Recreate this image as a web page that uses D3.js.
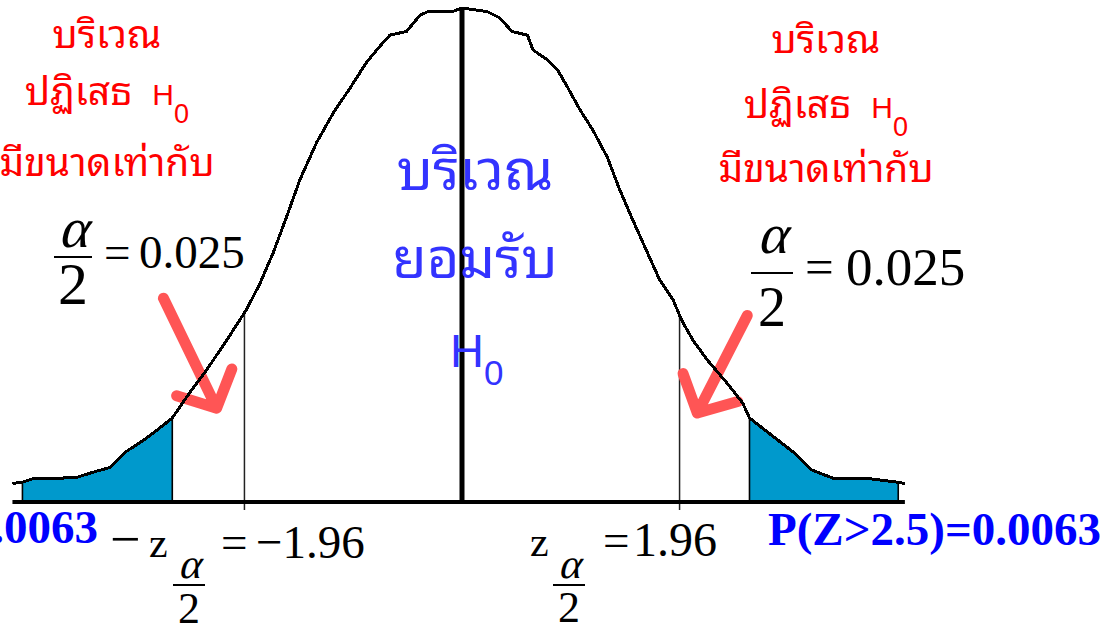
<!DOCTYPE html>
<html>
<head>
<meta charset="utf-8">
<script src="https://cdn.jsdelivr.net/npm/d3@7"></script>
<style>
  body { margin: 0; background: #fff; }
  svg { display: block; }
</style>
</head>
<body>
<div id="chart"></div>
<script>
// curve (z position, curve height)
const zValues = [-4.05, -3.96, -3.86, -3.68, -3.47, -3.29, -3.17, -3.04, -2.87, -2.75, -2.61, -2.45, -2.30, -2.12,
  -1.94, -1.82, -1.70, -1.58, -1.46, -1.31, -1.16, -1.01, -0.86, -0.74, -0.65, -0.50, -0.38, -0.31, -0.09, 0,
  0.23, 0.34, 0.45, 0.59, 0.64, 0.77, 0.86, 0.95, 1.06, 1.18, 1.31, 1.42, 1.54, 1.67, 1.78, 1.90, 1.98, 2.08,
  2.21, 2.39, 2.53, 2.59, 2.99, 3.15, 3.35, 3.66, 3.93, 3.99];
const density = [0.015, 0.016, 0.019, 0.019, 0.020, 0.025, 0.028, 0.040, 0.050, 0.058, 0.068, 0.089, 0.107, 0.131,
  0.156, 0.177, 0.202, 0.231, 0.261, 0.291, 0.315, 0.335, 0.356, 0.369, 0.378, 0.381, 0.394, 0.397, 0.397, 0.400,
  0.397, 0.392, 0.381, 0.378, 0.366, 0.358, 0.350, 0.336, 0.318, 0.301, 0.279, 0.253, 0.228, 0.202, 0.180, 0.164,
  0.147, 0.131, 0.115, 0.096, 0.080, 0.068, 0.040, 0.026, 0.019, 0.019, 0.016, 0.015];

const criticalZ = [-1.96, 1.96];
const tailRanges = [[-3.96, -2.61], [2.59, 3.93]];
const tailLabels = ["P(Z<-2.5)=0.0063", "P(Z>2.5)=0.0063"];
const rejectLines = ["บริเวณ", "ปฏิเสธ", "มีขนาดเท่ากับ"];
const acceptLines = ["บริเวณ", "ยอมรับ"];
const alphaHalf = "0.025";
const critLabels = ["−1.96", "1.96"];

// arrows: [start z, start h, tip z, tip h]
const arrows = [[-2.69, 0.165, -2.21, 0.076], [2.57, 0.151, 2.12, 0.072]];

const width = 1113, height = 629;
const pts = zValues.map((z, i) => ({ z: z, h: density[i] }));

const svg = d3.select("#chart").append("svg")
  .attr("width", width)
  .attr("height", height);

svg.append("rect").attr("width", width).attr("height", height).attr("fill", "#fff");

const x = d3.scaleLinear().domain([-4, 4]).range([18, 906]);
const y = d3.scaleLinear().domain([0, 0.4]).range([502, 8]);

const line = d3.line().x(d => x(d.z)).y(d => y(d.h));
const area = d3.area().x(d => x(d.z)).y0(y(0)).y1(d => y(d.h));

function hAt(z) {
  const i = d3.bisector(d => d.z).left(pts, z);
  const a = pts[i - 1], b = pts[i];
  return a.h + (b.h - a.h) * (z - a.z) / (b.z - a.z);
}

// shaded tails
tailRanges.forEach(r => {
  const seg = pts.filter(d => d.z >= r[0] - 1e-6 && d.z <= r[1] + 1e-6);
  svg.append("path")
    .datum(seg)
    .attr("d", area)
    .attr("fill", "#0099cc")
    .attr("stroke", "#000")
    .attr("stroke-width", 1.6)
    .attr("stroke-linejoin", "round");
});

// critical value lines
svg.selectAll(".crit")
  .data(criticalZ)
  .enter()
  .append("line")
  .attr("x1", d => x(d)).attr("x2", d => x(d))
  .attr("y1", d => y(hAt(d)))
  .attr("y2", y(0) + 8)
  .attr("stroke", "#222")
  .attr("stroke-width", 1.5);

// baseline
svg.append("line")
  .attr("x1", x(zValues[0])).attr("x2", x(zValues[zValues.length - 1]))
  .attr("y1", y(0)).attr("y2", y(0))
  .attr("stroke", "#000")
  .attr("stroke-width", 4);

// mean line
svg.append("line")
  .attr("x1", x(0)).attr("x2", x(0))
  .attr("y1", y(0.4)).attr("y2", y(0))
  .attr("stroke", "#000")
  .attr("stroke-width", 5);

// red arrows
arrows.forEach(a => {
  const sx = x(a[0]), sy = y(a[1]), tx = x(a[2]), ty = y(a[3]);
  const back = Math.atan2(sy - ty, sx - tx);
  const len = 42, spread = 47 * Math.PI / 180;
  const p1 = [tx + len * Math.cos(back + spread), ty + len * Math.sin(back + spread)];
  const p2 = [tx + len * Math.cos(back - spread), ty + len * Math.sin(back - spread)];
  svg.append("path")
    .attr("d", `M${sx},${sy}L${tx},${ty}M${p1[0]},${p1[1]}L${tx},${ty}L${p2[0]},${p2[1]}`)
    .attr("fill", "none")
    .attr("stroke", "#ff5555")
    .attr("stroke-width", 11)
    .attr("stroke-linecap", "round")
    .attr("stroke-linejoin", "round");
});

// the curve
svg.append("path")
  .datum(pts)
  .attr("d", line)
  .attr("fill", "none")
  .attr("stroke", "#000")
  .attr("stroke-width", 3)
  .attr("shape-rendering", "crispEdges");

const thai = "'Noto Sans Thai Looped', 'Loma', 'Garuda', 'Tahoma', 'Tlwg Typo', 'Noto Sans Thai', 'Noto Sans', sans-serif";
const serif = "'Liberation Serif', 'Times New Roman', serif";
const sans = "'Liberation Sans', Arial, sans-serif";

// red rejection-region text
function rejectBlock(cx, baselines) {
  rejectLines.forEach((t, i) => {
    const tx = svg.append("text")
      .attr("x", cx).attr("y", baselines[i])
      .attr("text-anchor", "middle")
      .attr("fill", "#ff0000")
      .attr("font-family", thai)
      .attr("font-size", 39)
      .text(t);
    if (i === 1) {
      tx.append("tspan").attr("font-family", sans).attr("font-size", 30).attr("dx", 20).text("H");
      tx.append("tspan").attr("font-family", sans).attr("font-size", 27).attr("dy", 18).text("0");
    }
  });
}
rejectBlock(107, [48, 105, 176]);
rejectBlock(826, [53, 118, 182]);

// blue acceptance-region text
acceptLines.forEach((t, i) => {
  svg.append("text")
    .attr("x", 475).attr("y", [190, 278][i])
    .attr("text-anchor", "middle")
    .attr("fill", "#3333ff")
    .attr("font-family", thai)
    .attr("font-size", 56)
    .text(t);
});
const h0 = svg.append("text")
  .attr("x", 450).attr("y", 367)
  .attr("fill", "#3333ff")
  .attr("font-family", sans);
h0.append("tspan").attr("font-size", 47).text("H");
h0.append("tspan").attr("font-size", 35).attr("dy", 18).text("0");

// alpha/2 = 0.025 labels
function alphaFrac(cx, top, aSize, twoSize, barW, barY, twoY) {
  svg.append("g")
    .attr("transform", `translate(${cx},${top}) skewX(-14)`)
    .append("text")
    .attr("text-anchor", "middle").attr("font-family", serif)
    .attr("font-size", aSize).text("α");
  svg.append("line").attr("x1", cx - barW / 2).attr("x2", cx + barW / 2)
    .attr("y1", barY).attr("y2", barY).attr("stroke", "#000").attr("stroke-width", 2);
  svg.append("text").attr("x", cx).attr("y", twoY)
    .attr("text-anchor", "middle").attr("font-family", serif)
    .attr("font-size", twoSize).text("2");
}
function plainText(px, py, size, t) {
  svg.append("text").attr("x", px).attr("y", py)
    .attr("font-family", serif).attr("font-size", size).text(t);
}

alphaFrac(73, 247, 56, 60, 38, 257, 304);
plainText(104, 268, 47, "=");
plainText(139, 268, 47, alphaHalf);

alphaFrac(772, 253, 56, 56, 42, 273, 326);
plainText(805, 284, 51, "=");
plainText(846, 285, 53, alphaHalf);

// critical value labels
plainText(110, 557, 54, "−");
plainText(149, 557, 42, "z");
alphaFrac(189, 578, 42, 44, 32, 585, 623);
plainText(221, 558, 47, "=");
plainText(256, 558, 47, critLabels[0]);

plainText(530, 556, 42, "z");
alphaFrac(569, 578, 42, 44, 32, 585, 622);
plainText(603, 556, 47, "=");
plainText(633, 556, 48, critLabels[1]);

// tail probabilities
svg.append("text").attr("x", 98).attr("y", 543)
  .attr("text-anchor", "end").attr("font-family", serif).attr("font-weight", "bold")
  .attr("font-size", 47).attr("fill", "#0000ff").text(tailLabels[0]);
svg.append("text").attr("x", 768).attr("y", 545)
  .attr("font-family", serif).attr("font-weight", "bold")
  .attr("font-size", 47).attr("fill", "#0000ff").text(tailLabels[1]);
</script>
</body>
</html>
